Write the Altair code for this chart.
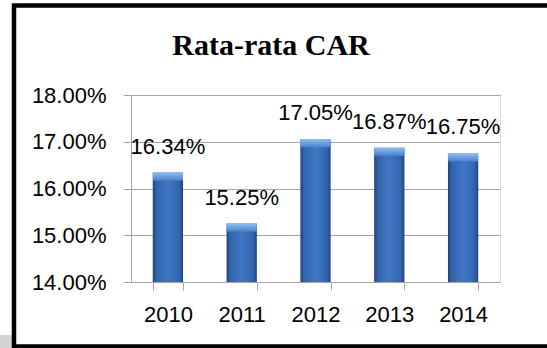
import altair as alt
import pandas as pd

years = ["2010", "2011", "2012", "2013", "2014"]
car = [0.1634, 0.1525, 0.1705, 0.1687, 0.1675]
y_ticks = [0.14, 0.15, 0.16, 0.17, 0.18]
title_text = "Rata-rata CAR"

df = pd.DataFrame({"year": years, "car": car})
df["bevel"] = df["car"] - 0.0017

FONT = "Liberation Sans"
GRID = "#a6a6a6"

x_enc = alt.X("year:N", sort=years,
              scale=alt.Scale(paddingInner=0.59, paddingOuter=0.295),
              axis=alt.Axis(title=None, labelFontSize=22, labelFont=FONT, labelColor="#000",
                            labelAngle=0, labelPadding=14, tickBand="extent", tickSize=8,
                            tickColor=GRID, domainColor=GRID, grid=False))
y_scale = alt.Scale(domain=[0.14, 0.18], nice=False, zero=False)

body = alt.LinearGradient(
    gradient="linear", x1=0, x2=1, y1=0, y2=0,
    stops=[alt.GradientStop(offset=0, color="#1f4379"),
           alt.GradientStop(offset=0.12, color="#3264ad"),
           alt.GradientStop(offset=0.5, color="#3f77c4"),
           alt.GradientStop(offset=0.88, color="#3264ad"),
           alt.GradientStop(offset=1, color="#1f4379")])
bevel_fill = alt.LinearGradient(
    gradient="linear", x1=0, x2=0, y1=0, y2=1,
    stops=[alt.GradientStop(offset=0, color="#8cbcf0"),
           alt.GradientStop(offset=1, color="#4a82cc")])

base = alt.Chart(df)

bars = base.mark_bar(color=body, clip=False).encode(
    x=x_enc,
    y=alt.Y("car:Q", scale=y_scale,
            axis=alt.Axis(title=None, values=y_ticks, format=".2%", labelFontSize=22,
                          labelFont=FONT, labelColor="#000", labelPadding=17, tickSize=8,
                          tickColor=GRID, domainColor=GRID, gridColor=GRID, grid=True)),
    y2=alt.datum(0.14),
)

bevel = base.mark_bar(color=bevel_fill).encode(
    x=alt.X("year:N", sort=years),
    y=alt.Y("car:Q"),
    y2="bevel:Q",
)

labels = base.mark_text(fontSize=22, font=FONT, color="#000", baseline="alphabetic", dy=-19).encode(
    x=alt.X("year:N", sort=years),
    y=alt.Y("car:Q"),
    text=alt.Text("car:Q", format=".2%"),
)

title = alt.Chart(pd.DataFrame({"t": [title_text]})).mark_text(
    font="Liberation Serif", fontSize=30, fontWeight="bold", color="#000",
    baseline="alphabetic", align="center"
).encode(x=alt.value(140), y=alt.value(-40), text="t:N")

frame = alt.Chart(pd.DataFrame({"a": [0]})).mark_rect(
    fill=None, stroke="#000", strokeWidth=4.5
).encode(x=alt.value(-117), x2=alt.value(425), y=alt.value(-89.5), y2=alt.value(251.5))

patch = alt.Chart(pd.DataFrame({"a": [0]})).mark_rect(
    fill="#d4d4d4"
).encode(x=alt.value(-131), x2=alt.value(-119), y=alt.value(240), y2=alt.value(253))

chart = alt.layer(bars, bevel, labels, title, patch, frame).properties(
    width=369, height=187,
    padding={"left": 131, "top": 95, "right": 47, "bottom": 66},
    autosize=alt.AutoSizeParams(type="none"),
).configure_view(stroke=None).configure(background="white")

chart.save("out.html", embed_options={"renderer": "svg", "actions": False})
